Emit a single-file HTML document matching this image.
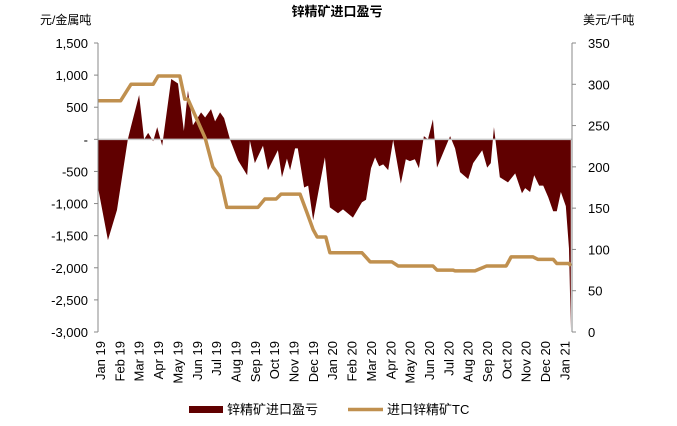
<!DOCTYPE html>
<html><head><meta charset="utf-8"><style>
body{margin:0;background:#fff;}
svg{display:block;font-family:"Liberation Sans","Noto Sans CJK SC",sans-serif;}
</style></head><body>
<svg id="c" width="677" height="426" viewBox="0 0 677 426">
<text x="337" y="16" text-anchor="middle" font-size="13" font-weight="bold">锌精矿进口盈亏</text>
<text x="40" y="24" font-size="12">元/金属吨</text>
<text x="583" y="24" font-size="12">美元/千吨</text>
<g id="plot"></g>
<rect x="189" y="406" width="34" height="7" fill="#600000"/>
<text x="227" y="414" font-size="13">锌精矿进口盈亏</text>
<line x1="348" y1="409.5" x2="383" y2="409.5" stroke="#c0904f" stroke-width="3.5"/>
<text x="387" y="414" font-size="13">进口锌精矿TC</text>
</svg>
<script>
const months = ["Jan 19","Feb 19","Mar 19","Apr 19","May 19","Jun 19","Jul 19","Aug 19","Sep 19","Oct 19","Nov 19","Dec 19","Jan 20","Feb 20","Mar 20","Apr 20","May 20","Jun 20","Jul 20","Aug 20","Sep 20","Oct 20","Nov 20","Dec 20","Jan 21"];
const leftTicks = [1500,1000,500,0,-500,-1000,-1500,-2000,-2500,-3000];
const leftTickLabels = ["1,500","1,000","500","-","-500","-1,000","-1,500","-2,000","-2,500","-3,000"];
const rightTicks = [350,300,250,200,150,100,50,0];
const profitWeeks = [0,2.2,4.2,6.6,7.3,9.1,10.2,11.1,12.2,13.1,14.2,16.2,17.7,19.0,19.9,21.0,22.8,23.7,25.0,25.9,27.0,27.9,29.2,31.0,33.0,33.6,34.7,36.5,37.6,39.8,40.7,41.8,42.5,43.6,44.2,45.6,46.5,47.6,48.7,50.2,51.3,53.1,54.2,56.4,58.4,59.3,60.4,61.3,62.2,63.1,64.2,65.3,67.0,68.1,69.0,70.1,71.0,72.1,73.0,74.1,75.0,76.3,77.9,79.0,80.1,81.9,83.0,85.0,86.1,86.9,87.6,88.9,90.7,92.3,93.8,94.5,95.6,96.5,97.6,98.5,99.6,100.7,101.5,102.4,103.5,104.2,104.6];
const profitValues = [-750,-1570,-1100,0,200,690,0,100,-30,190,-100,940,870,130,760,220,420,340,470,280,420,330,0,-330,-560,-20,-370,-100,-480,-170,-590,-300,-480,-140,-140,-750,-720,-1260,-840,-280,-1060,-1150,-1090,-1220,-980,-940,-450,-280,-420,-390,-480,-10,-690,-310,-340,-310,-450,50,0,310,-440,-220,50,-140,-510,-620,-370,-170,-440,-370,190,-590,-670,-530,-840,-760,-820,-560,-720,-720,-900,-1120,-1120,-820,-1040,-1700,-2950];
const tcWeeks = [0,5,7.3,12.2,13.3,18.1,19.2,19.9,23.7,25.4,27,28.5,35.4,36.9,39.4,40.5,44.7,46.2,47.6,48.5,50.4,51.3,58.4,60.2,65,66.4,74.1,75,78.5,79,83.4,86,90.3,91.4,96.2,97.3,100.7,101.5,104.2,104.6];
const tcValues = [280,280,300,300,310,310,282,282,235,200,188,151,151,161,161,167,167,145,124,115,115,96,96,85,85,80,80,75,75,74,74,80,80,91,91,88,88,83,83,80];

const NS="http://www.w3.org/2000/svg";
const g=document.getElementById('plot');
const X0=98,X1=572,YT=43,YB=332;
const xW=w=>X0+w*4.52;
const yL=v=>YT+(1500-v)*(YB-YT)/4500;
const yR=v=>YB-v*(YB-YT)/350;
function mk(t,a){const e=document.createElementNS(NS,t);for(const k in a)e.setAttribute(k,a[k]);g.appendChild(e);return e;}

// profit area
let d="M"+xW(profitWeeks[0])+","+yL(0);
profitWeeks.forEach((w,i)=>{d+=" L"+xW(w)+","+yL(profitValues[i]);});
d+=" L"+xW(profitWeeks[profitWeeks.length-1])+","+yL(0)+" Z";
const area=mk('path',{d:d,fill:'#600000'});



const zl=mk('line',{x1:X0,x2:X1,y1:yL(0),y2:yL(0),stroke:'#c8c8c8','stroke-width':1.5});



// tc line
let p=tcWeeks.map((w,i)=>xW(w)+","+yR(tcValues[i])).join(" ");
const tl=mk('polyline',{points:p,fill:'none',stroke:'#c0904f','stroke-width':3.5,'stroke-linejoin':'round'});



// axes
const la=mk('line',{x1:X0,x2:X0,y1:YT,y2:YB,stroke:'#888','stroke-width':1});


const ra=mk('line',{x1:X1,x2:X1,y1:YT,y2:YB,stroke:'#888','stroke-width':1});


leftTicks.forEach((v,i)=>{
  const y=yL(v);
  const tk=mk('line',{x1:X0-4,x2:X0,y1:y,y2:y,stroke:'#888'});
  
  
  const t=mk('text',{x:88,y:y+5,'text-anchor':'end','font-size':13});
  t.textContent=leftTickLabels[i];
  
  
});
rightTicks.forEach(v=>{
  const y=yR(v);
  const tk=mk('line',{x1:X1,x2:X1+4,y1:y,y2:y,stroke:'#888'});
  
  
  const t=mk('text',{x:588,y:y+5,'font-size':13});
  t.textContent=v;
  
  
});
months.forEach((m,i)=>{
  const x=100+i*19.35;
  const t=mk('text',{x:0,y:0,'text-anchor':'end','font-size':13,transform:`translate(${x+5},341) rotate(-90)`});
  t.textContent=m;
  
  
});
</script>
</body></html>
